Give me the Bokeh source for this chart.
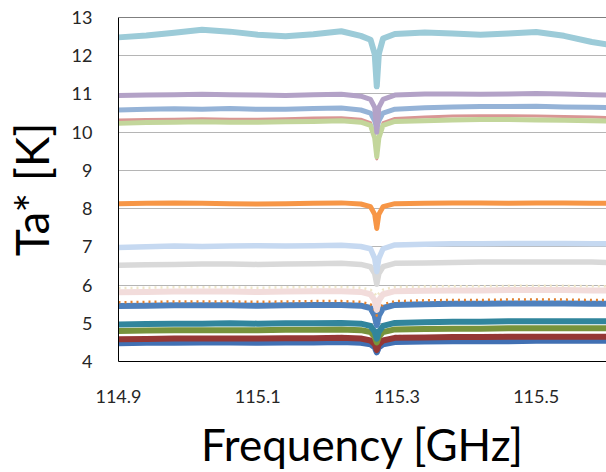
from bokeh.plotting import figure
from bokeh.models import Range1d, FixedTicker, Span, NumeralTickFormatter
from bokeh.embed import file_html
from bokeh.resources import INLINE

# ---- data ----
freq = [114.90, 114.94, 114.98, 115.02, 115.06, 115.10, 115.14, 115.18, 115.22, 115.248,
        115.262, 115.268, 115.271, 115.274, 115.280, 115.297, 115.34, 115.38, 115.42, 115.46,
        115.50, 115.54, 115.58, 115.61]

s_skyblue = [12.48, 12.53, 12.60, 12.68, 12.63, 12.55, 12.51, 12.56, 12.64, 12.52,
             12.42, 12.05, 11.20, 12.05, 12.45, 12.57, 12.61, 12.58, 12.55, 12.58,
             12.62, 12.52, 12.36, 12.27]
s_purple = [10.96, 10.97, 10.98, 10.99, 10.98, 10.97, 10.96, 10.98, 10.99, 10.94,
            10.86, 10.65, 10.00, 10.65, 10.86, 10.97, 11.00, 11.00, 10.99, 11.00,
            11.01, 11.00, 10.98, 10.97]
s_steel = [10.58, 10.60, 10.61, 10.60, 10.62, 10.60, 10.60, 10.62, 10.63, 10.58,
           10.50, 10.30, 10.10, 10.30, 10.50, 10.60, 10.64, 10.66, 10.67, 10.67,
           10.68, 10.66, 10.65, 10.64]
s_rose = [10.32, 10.33, 10.34, 10.35, 10.34, 10.34, 10.35, 10.37, 10.38, 10.34,
          10.25, 9.90, 9.30, 9.90, 10.25, 10.36, 10.40, 10.42, 10.43, 10.43,
          10.42, 10.41, 10.40, 10.38]
s_lime = [10.23, 10.25, 10.26, 10.27, 10.26, 10.26, 10.27, 10.28, 10.30, 10.26,
          10.18, 9.85, 9.36, 9.85, 10.18, 10.28, 10.30, 10.32, 10.33, 10.33,
          10.32, 10.31, 10.30, 10.29]
s_orange = [8.13, 8.14, 8.15, 8.14, 8.13, 8.12, 8.13, 8.14, 8.15, 8.12,
            8.05, 7.85, 7.48, 7.85, 8.05, 8.13, 8.14, 8.15, 8.15, 8.14,
            8.15, 8.15, 8.14, 8.14]
s_iceblue = [6.98, 7.00, 7.02, 7.01, 7.02, 7.03, 7.02, 7.03, 7.04, 7.01,
             6.95, 6.70, 6.35, 6.70, 6.95, 7.05, 7.07, 7.08, 7.08, 7.09,
             7.09, 7.09, 7.08, 7.08]
s_gray = [6.52, 6.53, 6.54, 6.55, 6.55, 6.54, 6.55, 6.56, 6.57, 6.54,
          6.48, 6.30, 6.02, 6.30, 6.48, 6.57, 6.58, 6.59, 6.60, 6.60,
          6.60, 6.60, 6.60, 6.59]
s_beige = [5.92, 5.93, 5.94, 5.94, 5.94, 5.93, 5.94, 5.95, 5.95, 5.93,
           5.88, 5.78, 5.70, 5.78, 5.88, 5.95, 5.96, 5.97, 5.97, 5.98,
           5.98, 5.98, 5.97, 5.97]
s_pink = [5.81, 5.82, 5.83, 5.83, 5.83, 5.82, 5.83, 5.84, 5.84, 5.82,
          5.76, 5.60, 5.35, 5.60, 5.76, 5.84, 5.85, 5.86, 5.86, 5.87,
          5.87, 5.87, 5.86, 5.86]
s_blue = [5.45, 5.46, 5.47, 5.47, 5.47, 5.46, 5.47, 5.48, 5.48, 5.46,
          5.40, 5.20, 4.95, 5.20, 5.40, 5.48, 5.50, 5.51, 5.51, 5.52,
          5.52, 5.52, 5.51, 5.51]
s_rust = [5.55, 5.56, 5.57, 5.57, 5.57, 5.56, 5.57, 5.58, 5.58, 5.56,
          5.50, 5.35, 5.20, 5.35, 5.50, 5.58, 5.60, 5.61, 5.61, 5.62,
          5.62, 5.62, 5.61, 5.61]
s_teal = [4.97, 4.98, 4.99, 4.99, 5.00, 4.99, 5.00, 5.00, 5.01, 4.99,
          4.93, 4.78, 4.60, 4.78, 4.93, 5.01, 5.03, 5.04, 5.04, 5.05,
          5.05, 5.05, 5.05, 5.05]
s_olive = [4.80, 4.81, 4.82, 4.82, 4.82, 4.82, 4.83, 4.83, 4.84, 4.82,
           4.77, 4.65, 4.50, 4.65, 4.77, 4.84, 4.85, 4.86, 4.86, 4.87,
           4.87, 4.87, 4.87, 4.87]
s_white = [4.71, 4.72, 4.72, 4.73, 4.73, 4.72, 4.73, 4.73, 4.74, 4.72,
           4.68, 4.60, 4.50, 4.60, 4.68, 4.74, 4.75, 4.76, 4.76, 4.77,
           4.77, 4.77, 4.77, 4.77]
s_maroon = [4.58, 4.59, 4.60, 4.60, 4.60, 4.60, 4.61, 4.61, 4.62, 4.60,
            4.55, 4.45, 4.30, 4.45, 4.55, 4.62, 4.63, 4.64, 4.64, 4.65,
            4.65, 4.65, 4.65, 4.65]
s_navy = [4.48, 4.49, 4.49, 4.50, 4.50, 4.49, 4.50, 4.50, 4.51, 4.49,
          4.45, 4.37, 4.24, 4.37, 4.45, 4.51, 4.52, 4.53, 4.53, 4.53,
          4.54, 4.54, 4.54, 4.54]

x_ticks = [114.9, 115.1, 115.3, 115.5]
y_ticks = [4, 5, 6, 7, 8, 9, 10, 11, 12, 13]

# (values, colour, width, dash) in drawing order
series = [
    (s_navy, "#4170b3", 6, "solid"),
    (s_maroon, "#953735", 6, "solid"),
    (s_white, "#ffffff", 2, "2 3"),
    (s_olive, "#77933c", 6, "solid"),
    (s_teal, "#31859c", 6, "solid"),
    (s_blue, "#4f81bd", 6, "solid"),
    (s_rust, "#e0802f", 2.5, "2 4"),
    (s_pink, "#f2dcdb", 6, "solid"),
    (s_beige, "#efe6c8", 2.5, "2 4"),
    (s_gray, "#d9d9d9", 5.5, "solid"),
    (s_iceblue, "#c6d9f1", 5.5, "solid"),
    (s_orange, "#f79646", 5, "solid"),
    (s_rose, "#d99694", 3, "solid"),
    (s_lime, "#c3d69b", 5, "solid"),
    (s_steel, "#95b3d7", 5, "solid"),
    (s_purple, "#b3a2c7", 5, "solid"),
    (s_skyblue, "#9ccbd8", 6, "solid"),
]

p = figure(width=606, height=472, output_backend="svg", toolbar_location=None,
           x_range=Range1d(114.9, 115.601), y_range=Range1d(4, 13),
           min_border_left=115, min_border_right=0, min_border_top=17, min_border_bottom=103)
p.outline_line_color = None
p.background_fill_color = "white"
p.border_fill_color = "white"

for vals, col, w, dash in series:
    p.line(freq, vals, line_color=col, line_width=w, line_dash=dash, line_join="round")

p.xaxis.ticker = FixedTicker(ticks=x_ticks)
p.yaxis.ticker = FixedTicker(ticks=y_ticks)
p.xaxis.formatter = NumeralTickFormatter(format="0.0")
for ax in (p.xaxis[0], p.yaxis[0]):
    ax.major_tick_line_color = None
    ax.minor_tick_line_color = None
    ax.axis_line_color = "black"
    ax.axis_line_width = 1
    ax.major_label_text_font = "Lato"
    ax.major_label_text_font_size = "18px"
    ax.major_label_text_color = "#262626"
    ax.axis_label_text_font = "Lato"
    ax.axis_label_text_font_style = "normal"
    ax.axis_label_text_color = "black"
p.yaxis.major_label_standoff = 20
p.xaxis.major_label_standoff = 22
p.xaxis.axis_label = "Frequency [GHz]"
p.yaxis.axis_label = "Ta* [K]"
p.xaxis.axis_label_text_font_size = "44px"
p.yaxis.axis_label_text_font_size = "46px"
p.xaxis.axis_label_standoff = 12
p.yaxis.axis_label_standoff = 10

p.xgrid.grid_line_color = None
p.ygrid.grid_line_color = "#b5b5b5"
p.ygrid.grid_line_width = 1

p.add_layout(Span(location=13, dimension="width", line_color="black", line_width=1))

open("out.html", "w").write(file_html(p, INLINE))
